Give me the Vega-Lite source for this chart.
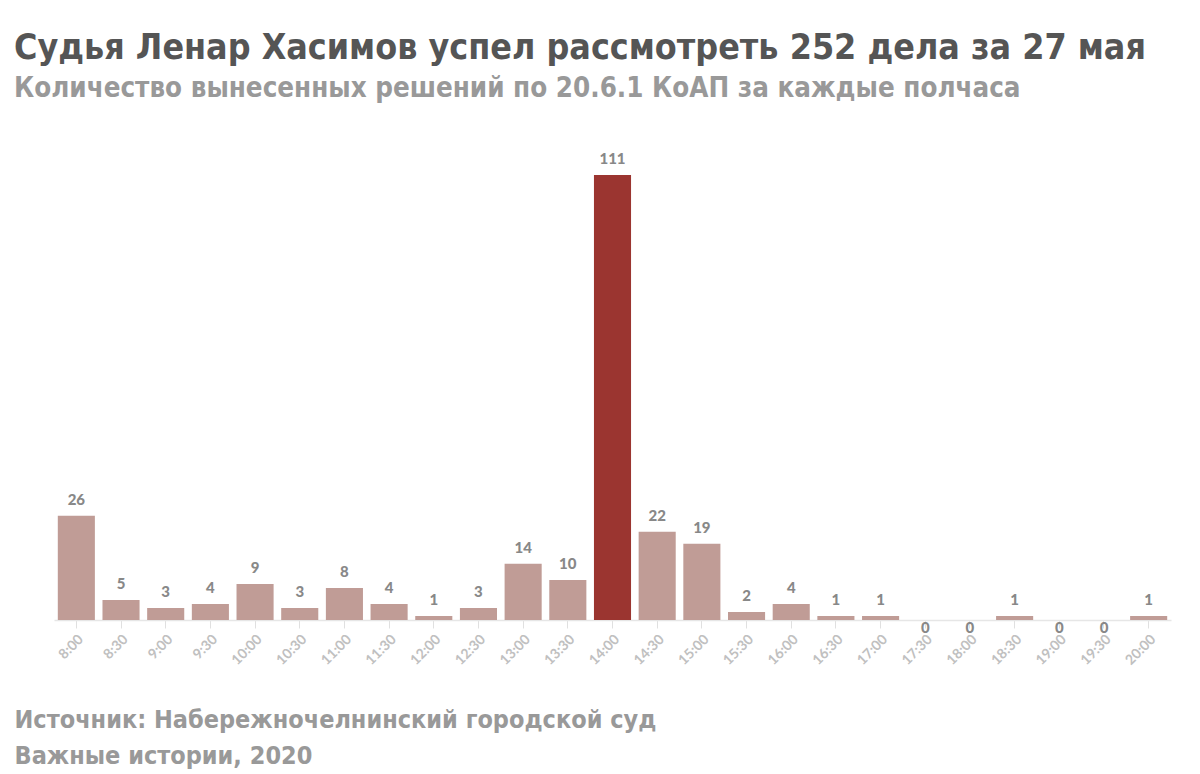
{
  "$schema": "https://vega.github.io/schema/vega-lite/v6.json",
  "autosize": "none",
  "width": 1117,
  "height": 445,
  "padding": {"left": 54, "top": 175, "right": 29, "bottom": 154},
  "background": "white",
  "config": {"view": {"stroke": null}, "font": "DejaVu Sans Condensed"},
  "title": {
    "text": "Судья Ленар Хасимов успел рассмотреть 252 дела за 27 мая",
    "subtitle": "Количество вынесенных решений по 20.6.1 КоАП за каждые полчаса",
    "anchor": "start",
    "frame": "group",
    "dx": -40,
    "offset": 50,
    "font": "DejaVu Sans Condensed",
    "fontSize": 35.5,
    "fontWeight": "bold",
    "color": "#555555",
    "subtitleFont": "DejaVu Sans Condensed",
    "subtitleFontSize": 27.5,
    "subtitleFontWeight": "bold",
    "subtitleColor": "#999999",
    "subtitlePadding": 8
  },
  "data": {"values": [
    {"time": "8:00", "n": 26}, {"time": "8:30", "n": 5}, {"time": "9:00", "n": 3}, {"time": "9:30", "n": 4},
    {"time": "10:00", "n": 9}, {"time": "10:30", "n": 3}, {"time": "11:00", "n": 8}, {"time": "11:30", "n": 4},
    {"time": "12:00", "n": 1}, {"time": "12:30", "n": 3}, {"time": "13:00", "n": 14}, {"time": "13:30", "n": 10},
    {"time": "14:00", "n": 111}, {"time": "14:30", "n": 22}, {"time": "15:00", "n": 19}, {"time": "15:30", "n": 2},
    {"time": "16:00", "n": 4}, {"time": "16:30", "n": 1}, {"time": "17:00", "n": 1}, {"time": "17:30", "n": 0},
    {"time": "18:00", "n": 0}, {"time": "18:30", "n": 1}, {"time": "19:00", "n": 0}, {"time": "19:30", "n": 0},
    {"time": "20:00", "n": 1}
  ]},
  "encoding": {
    "x": {
      "field": "time", "type": "nominal", "sort": null,
      "scale": {"paddingInner": 0.17, "paddingOuter": 0.085},
      "axis": {
        "title": ["Источник: Набережночелнинский городской суд", "Важные истории, 2020"],
        "titleFont": "DejaVu Sans Condensed", "titleFontSize": 25, "titleFontWeight": "bold", "titleColor": "#999999",
        "titleAlign": "left", "titleBaseline": "top", "titleX": -40, "titleY": 87, "titleLineHeight": 36,
        "labelAngle": -45, "labelColor": "#c0c0c0", "labelFontSize": 14, "labelFont": "Lato", "labelFontWeight": "bold", "labelPadding": 4,
        "tickColor": "#e0e0e0", "tickSize": 8, "domainColor": "#e6e6e6", "domainWidth": 1.5
      }
    },
    "y": {"field": "n", "type": "quantitative", "scale": {"domain": [0, 111], "nice": false}, "axis": null}
  },
  "layer": [
    {
      "mark": {"type": "bar"},
      "encoding": {
        "color": {"condition": {"test": "datum.time === '14:00'", "value": "#9b3530"}, "value": "#c09c96"}
      }
    },
    {
      "transform": [{"filter": "datum.n > 0"}],
      "mark": {"type": "text", "baseline": "bottom", "dy": -8, "font": "Lato", "fontSize": 15, "fontWeight": 900, "color": "#888888"},
      "encoding": {"text": {"field": "n", "type": "quantitative"}}
    },
    {
      "transform": [{"filter": "datum.n == 0"}],
      "mark": {"type": "text", "baseline": "top", "dy": 1, "font": "Lato", "fontSize": 15, "fontWeight": 900, "color": "#888888"},
      "encoding": {"text": {"field": "n", "type": "quantitative"}}
    }
  ]
}
